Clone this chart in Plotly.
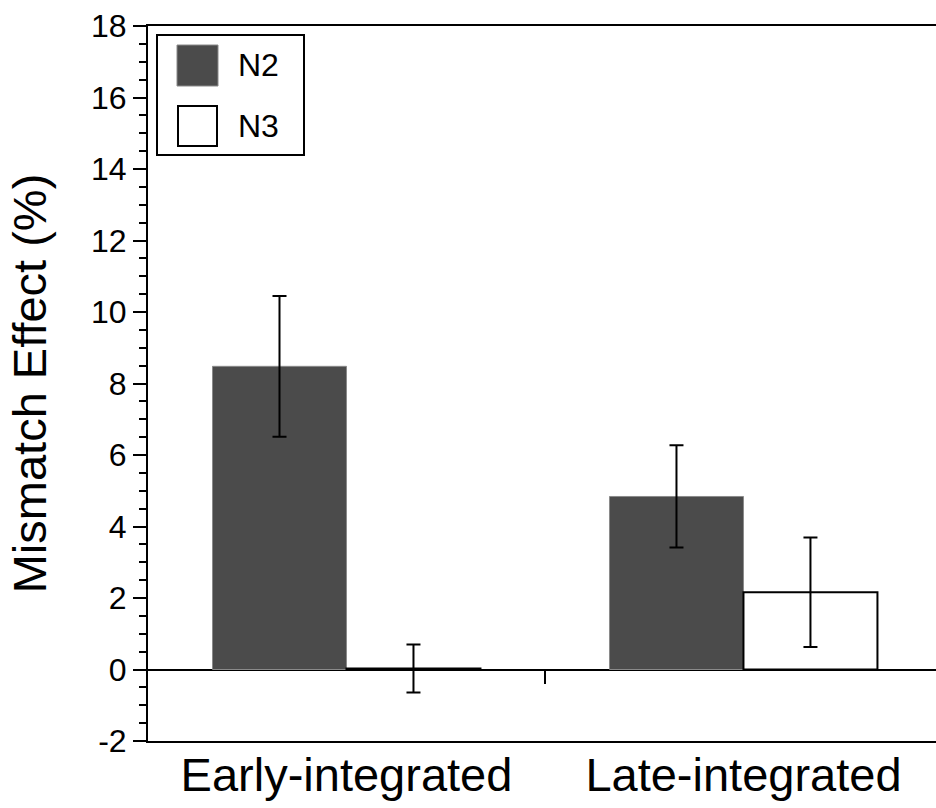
import plotly.graph_objects as go

categories = ["Early-integrated", "Late-integrated"]
n2_values = [8.48, 4.84]
n2_errors = [1.97, 1.43]
n3_values = [0.03, 2.16]
n3_errors = [0.67, 1.53]
y_ticks = [-2, 0, 2, 4, 6, 8, 10, 12, 14, 16, 18]
y_tick_text = ["-2", "0", "2", "4", "6", "8", "10", "12", "14", "16", "18"]
legend_labels = ["N2", "N3"]
divider_ticks = [0.5]

FONT = "Liberation Sans, Arial, Helvetica, sans-serif"
x_pos = list(range(len(categories)))

fig = go.Figure()
fig.add_trace(go.Bar(
    x=x_pos, y=n2_values, name=legend_labels[0],
    marker=dict(color="#4b4b4b", line=dict(color="#8a8a8a", width=1)),
    error_y=dict(type="data", array=n2_errors, color="black", thickness=2, width=7),
    showlegend=False,
))
fig.add_trace(go.Bar(
    x=x_pos, y=n3_values, name=legend_labels[1],
    marker=dict(color="white", line=dict(color="black", width=2)),
    error_y=dict(type="data", array=n3_errors, color="black", thickness=2, width=7),
    showlegend=False,
))
# empty helper trace so the zero-line axis (category divider tick) is drawn
fig.add_trace(go.Scatter(x=[], y=[], xaxis="x2", yaxis="y", showlegend=False, hoverinfo="skip"))

# custom legend (paper coordinates)
W, H = 936, 808
ml, mt, mb, mr = 148, 26, 67, 0
pw, ph = W - ml - mr, H - mt - mb

def px(x):
    return (x - ml) / pw

def py(y):
    return 1 - (y - mt) / ph

shapes = [
    dict(type="rect", xref="paper", yref="paper", x0=px(157), x1=px(304), y0=py(155), y1=py(35),
         line=dict(color="black", width=2), fillcolor="white", layer="above"),
    dict(type="rect", xref="paper", yref="paper", x0=px(177), x1=px(218), y0=py(86), y1=py(45),
         line=dict(color="#8a8a8a", width=1), fillcolor="#4b4b4b", layer="above"),
    dict(type="rect", xref="paper", yref="paper", x0=px(178), x1=px(217), y0=py(146), y1=py(106),
         line=dict(color="black", width=2), fillcolor="white", layer="above"),
]
annotations = [
    dict(text=legend_labels[0], xref="paper", yref="paper", x=px(236), y=py(65), xanchor="left",
         yanchor="middle", showarrow=False, font=dict(family=FONT, size=32, color="black")),
    dict(text=legend_labels[1], xref="paper", yref="paper", x=px(236), y=py(126), xanchor="left",
         yanchor="middle", showarrow=False, font=dict(family=FONT, size=32, color="black")),
]

fig.update_layout(
    width=W, height=H,
    margin=dict(l=ml, r=mr, t=mt, b=mb, pad=0),
    paper_bgcolor="white", plot_bgcolor="white",
    barmode="group", bargap=0.325, bargroupgap=0,
    font=dict(family=FONT, color="black"),
    shapes=shapes, annotations=annotations,
    xaxis=dict(
        range=[-0.5, 1.485], tickvals=x_pos, ticktext=categories,
        showline=True, linecolor="black", linewidth=2, mirror=True,
        ticks="", showgrid=False, zeroline=False, ticklabelstandoff=-8,
        tickfont=dict(family=FONT, size=47, color="black"),
    ),
    xaxis2=dict(
        overlaying="x", anchor="free", position=0.1, side="bottom",
        range=[-0.5, 1.485], tickvals=divider_ticks, ticks="outside", ticklen=13,
        tickwidth=2, tickcolor="black", showticklabels=False,
        showline=False, showgrid=False, zeroline=False,
    ),
    yaxis=dict(
        range=[-2, 18], tickvals=y_ticks, ticktext=y_tick_text, ticks="outside", ticklen=13, tickwidth=2,
        tickcolor="black", showline=True, linecolor="black", linewidth=2,
        showgrid=False, zeroline=True, zerolinecolor="black", zerolinewidth=2,
        tickfont=dict(family=FONT, size=32, color="black"),
        minor=dict(dtick=0.5, ticks="outside", ticklen=7, tickwidth=2, tickcolor="black", showgrid=False),
        title=dict(text="Mismatch Effect (%)", font=dict(family=FONT, size=47, color="black"), standoff=30),
    ),
)

fig.write_html("out.html", config={"displayModeBar": False})

with open("out.html", "r", encoding="utf-8") as f:
    html = f.read()
html = html.replace("<body>", '<body style="margin:0;padding:0;overflow:hidden;">', 1)
with open("out.html", "w", encoding="utf-8") as f:
    f.write(html)
